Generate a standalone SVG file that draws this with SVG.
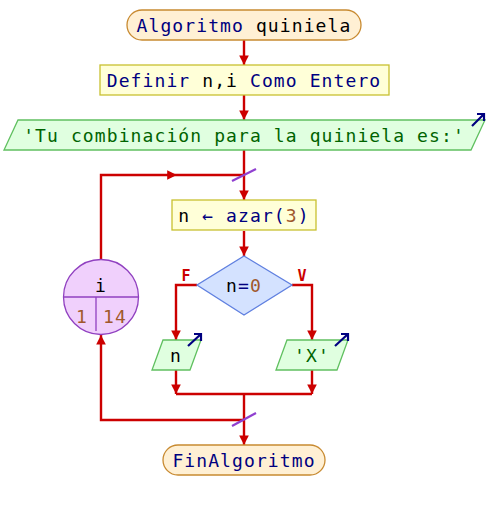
<svg xmlns="http://www.w3.org/2000/svg" width="488" height="510" viewBox="0 0 488 510">
<defs>
<marker id="ah" viewBox="0 0 10 10" refX="10" refY="5" markerWidth="4" markerHeight="4" orient="auto" markerUnits="strokeWidth">
<path d="M0,0 L10,5 L0,10 z" fill="#cc0000"/>
</marker>
<marker id="mid" viewBox="0 0 10 10" refX="5" refY="5" markerWidth="4" markerHeight="4" orient="auto" markerUnits="strokeWidth">
<path d="M0,0 L10,5 L0,10 z" fill="#cc0000"/>
</marker>
</defs>
<style>
text{font-family:"DejaVu Sans Mono","Liberation Mono",monospace;font-size:18px;letter-spacing:1.1px;text-anchor:middle}
.kw{fill:#000080}.id{fill:#000000}.num{fill:#a0582c}.str{fill:#006400}
.term{fill:#fff0d4;stroke:#c88a30;stroke-width:1.3}
.proc{fill:#ffffd8;stroke:#c8c030;stroke-width:1.3}
.out{fill:#e0ffe0;stroke:#60c060;stroke-width:1.3}
.dec{fill:#d4e2ff;stroke:#6080e0;stroke-width:1.3}
.loop{fill:#f0d0fc;stroke:#9040c0;stroke-width:1.3}
.ico{stroke:#000080;stroke-width:2.2;fill:none}
.c{stroke:#cc0000;stroke-width:2.4;fill:none}
.sl{stroke:#9040d0;stroke-width:2.2}
.lbl{fill:#cc0000;font-weight:bold;font-size:15px;letter-spacing:0}
</style>
<g id="connectors">
<path class="c" d="M244,40 V65" marker-end="url(#ah)"/>
<path class="c" d="M244,95 V120" marker-end="url(#ah)"/>
<path class="c" d="M244,150 V200" marker-end="url(#ah)"/>
<path class="c" d="M101,259 V175 H172" marker-end="url(#mid)"/>
<path class="c" d="M172,175 H244"/>
<path class="c" d="M244,231 V256" marker-end="url(#ah)"/>
<path class="c" d="M197,285 H176 V340" marker-end="url(#ah)"/>
<path class="c" d="M292,285 H312 V340" marker-end="url(#ah)"/>
<path class="c" d="M176,370 V394" marker-end="url(#ah)"/>
<path class="c" d="M312,370 V394" marker-end="url(#ah)"/>
<path class="c" d="M176,394 H312"/>
<path class="c" d="M244,394 V445" marker-end="url(#ah)"/>
<path class="c" d="M244,420 H101 V335" marker-end="url(#ah)"/>
<line class="sl" x1="232" y1="181" x2="256" y2="169"/>
<line class="sl" x1="232" y1="426" x2="256" y2="413"/>
<text class="lbl" x="186" y="281">F</text>
<text class="lbl" x="302" y="281">V</text>
</g>
<g id="start">
<rect class="term" x="127" y="10" width="234" height="30" rx="15"/>
<text x="244" y="32"><tspan class="kw">Algoritmo</tspan><tspan class="id"> quiniela</tspan></text>
</g>
<g id="definir">
<rect class="proc" x="100" y="65" width="289" height="30"/>
<text x="244" y="87"><tspan class="kw">Definir </tspan><tspan class="id">n,i</tspan><tspan class="kw"> Como Entero</tspan></text>
</g>
<g id="escribir1">
<polygon class="out" points="18,120 485,120 471,150 4,150"/>
<text class="str" x="244" y="142">'Tu combinación para la quiniela es:'</text>
<path class="ico" d="M472,126 L484,114 M477,114 H484 V121"/>
</g>
<g id="para">
<circle class="loop" cx="101" cy="297" r="37.5"/>
<line x1="64" y1="297" x2="138" y2="297" stroke="#9040c0" stroke-width="1.3"/>
<line x1="96" y1="297" x2="96" y2="331" stroke="#9040c0" stroke-width="1.3"/>
<text class="id" x="101" y="292">i</text>
<text class="num" x="82" y="323">1</text>
<text class="num" x="115" y="323">14</text>
</g>
<g id="asignar">
<rect class="proc" x="172" y="200" width="144" height="30"/>
<text x="244" y="222"><tspan class="id">n</tspan><tspan class="kw"> ← azar(</tspan><tspan class="num">3</tspan><tspan class="kw">)</tspan></text>
</g>
<g id="si">
<polygon class="dec" points="244,256 292,285 244,315 197,285"/>
<text x="244" y="292"><tspan class="id">n</tspan><tspan class="kw">=</tspan><tspan class="num">0</tspan></text>
</g>
<g id="escribirN">
<polygon class="out" points="163,340 201,340 190,370 152,370"/>
<text class="id" x="176" y="362">n</text>
<path class="ico" d="M188,346 L201,334 M194,334 H201 V341"/>
</g>
<g id="escribirX">
<polygon class="out" points="287,340 348,340 337,370 276,370"/>
<text class="str" x="312" y="362">'X'</text>
<path class="ico" d="M335,346 L348,334 M341,334 H348 V341"/>
</g>
<g id="fin">
<rect class="term" x="163" y="445" width="162" height="30" rx="15"/>
<text class="kw" x="244" y="467">FinAlgoritmo</text>
</g>
</svg>
